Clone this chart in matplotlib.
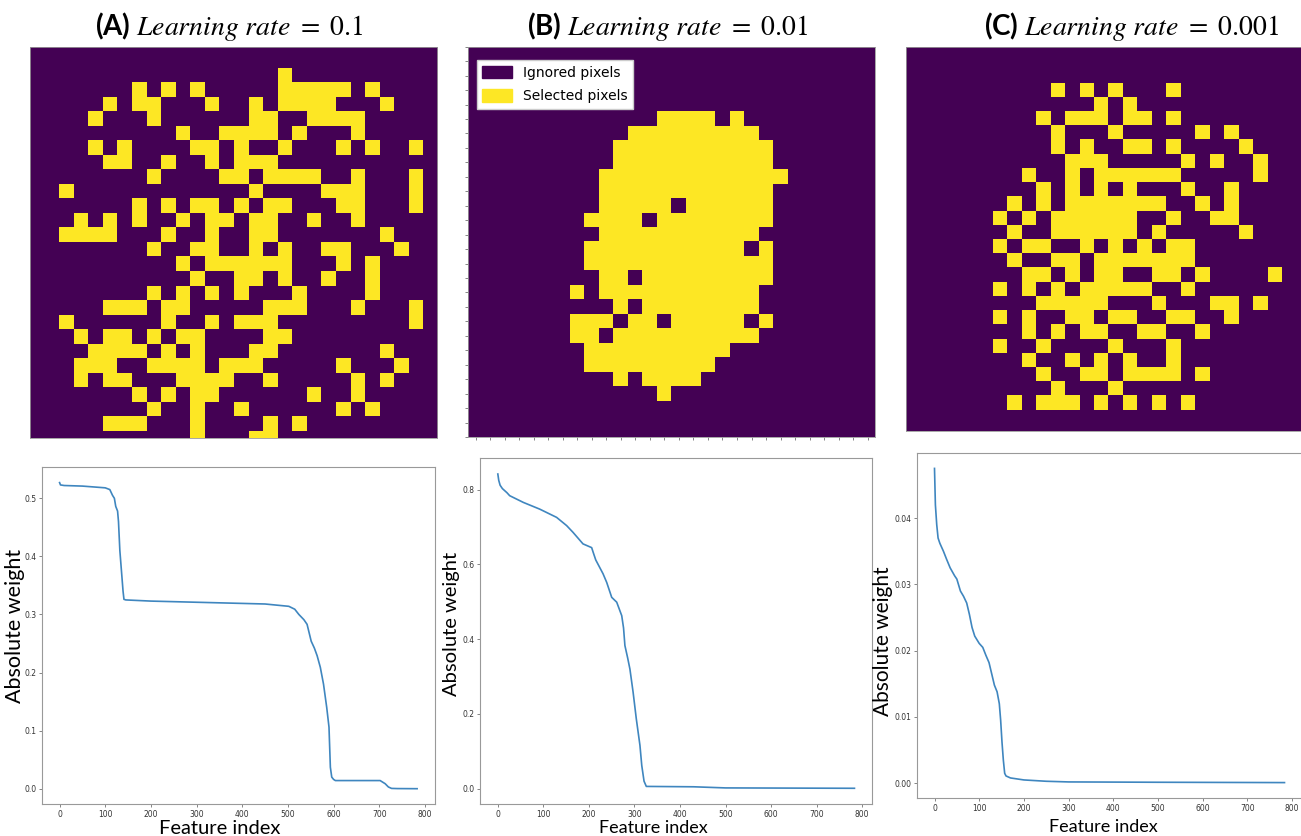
import numpy as np
import matplotlib
matplotlib.use('Agg')
import matplotlib.pyplot as plt
from matplotlib.patches import Patch

plt.rcParams['mathtext.fontset'] = 'stix'
plt.rcParams['font.family'] = 'DejaVu Sans'

# selected pixels per row (column indices), 28x28 masks
rows_a = [
    [], [], [17],
    [7, 9, 11, 17, 18, 19, 20, 21, 23],
    [5, 7, 8, 12, 15, 17, 18, 19, 20, 24],
    [4, 8, 15, 16, 19, 20, 21, 22],
    [10, 13, 14, 15, 16, 18, 22],
    [4, 6, 11, 12, 14, 17, 21, 23, 26],
    [5, 6, 9, 12, 14, 15, 16],
    [8, 13, 14, 16, 17, 18, 19, 22, 26],
    [2, 15, 20, 21, 22, 26],
    [7, 9, 11, 12, 14, 16, 17, 21, 22, 26],
    [3, 5, 7, 10, 12, 13, 15, 16, 19, 22],
    [2, 3, 4, 5, 9, 12, 15, 16, 24],
    [8, 11, 12, 15, 17, 20, 21, 25],
    [10, 12, 13, 14, 15, 16, 17, 21, 23],
    [11, 14, 15, 17, 20, 23],
    [8, 10, 12, 14, 18, 23],
    [5, 6, 7, 9, 10, 16, 17, 18, 22, 26],
    [2, 9, 12, 14, 15, 16, 26],
    [3, 5, 6, 8, 10, 11, 16, 17],
    [4, 5, 6, 7, 9, 11, 15, 16, 24],
    [3, 4, 5, 8, 9, 10, 11, 13, 14, 15, 21, 25],
    [3, 5, 6, 10, 11, 12, 13, 16, 22, 24],
    [7, 9, 11, 12, 19, 22],
    [8, 11, 14, 21, 23],
    [5, 6, 7, 11, 16, 18],
    [11, 15, 16],
]

rows_b = [
    [], [], [], [], [],
    [13, 14, 15, 16, 18],
    [11, 12, 13, 14, 15, 16, 17, 18, 19],
    [10, 11, 12, 13, 14, 15, 16, 17, 18, 19, 20],
    [10, 11, 12, 13, 14, 15, 16, 17, 18, 19, 20],
    [9, 10, 11, 12, 13, 14, 15, 16, 17, 18, 19, 20, 21],
    [9, 10, 11, 12, 13, 14, 15, 16, 17, 18, 19, 20],
    [9, 10, 11, 12, 13, 15, 16, 17, 18, 19, 20],
    [8, 9, 10, 11, 13, 14, 15, 16, 17, 18, 19, 20],
    [9, 10, 11, 12, 13, 14, 15, 16, 17, 18, 19],
    [8, 9, 10, 11, 12, 13, 14, 15, 16, 17, 18, 20],
    [8, 9, 10, 11, 12, 13, 14, 15, 16, 17, 18, 19, 20],
    [9, 10, 12, 13, 14, 15, 16, 17, 18, 19, 20],
    [7, 9, 10, 11, 12, 13, 14, 15, 16, 17, 18, 19],
    [10, 12, 13, 14, 15, 16, 17, 18, 19],
    [7, 8, 9, 11, 12, 14, 15, 16, 17, 18, 20],
    [7, 8, 10, 11, 12, 13, 14, 15, 16, 17, 18, 19],
    [8, 9, 10, 11, 12, 13, 14, 15, 16, 17],
    [8, 9, 10, 11, 12, 13, 14, 15, 16],
    [10, 12, 13, 14, 15],
    [13],
    [], [], [],
]

rows_c = [
    [], [], [],
    [10, 12, 14, 18],
    [13, 15],
    [9, 11, 12, 13, 15, 16, 18],
    [10, 14, 20, 22],
    [10, 12, 15, 16, 18, 23],
    [11, 12, 13, 19, 21, 24],
    [8, 11, 13, 14, 15, 16, 17, 18, 24],
    [9, 11, 13, 15, 19, 22],
    [7, 9, 11, 12, 13, 14, 15, 16, 17, 20, 22],
    [6, 8, 10, 11, 12, 13, 14, 15, 18, 21, 22],
    [7, 10, 11, 12, 13, 14, 15, 17, 23],
    [6, 8, 9, 12, 14, 16, 18, 19],
    [7, 10, 11, 13, 14, 15, 16, 17, 18, 19],
    [8, 9, 11, 13, 14, 17, 18, 20, 25],
    [6, 8, 10, 12, 13, 14, 15, 16, 19],
    [9, 10, 11, 12, 13, 17, 21, 22, 24],
    [6, 8, 11, 12, 14, 15, 18, 19, 22],
    [8, 10, 12, 13, 16, 17, 20],
    [6, 9, 14, 18],
    [8, 11, 13, 15, 18],
    [9, 12, 13, 15, 16, 17, 18, 20],
    [10, 14],
    [7, 9, 10, 11, 13, 15, 17, 19],
    [], [],
]

# sorted absolute weights
idx_a = [0, 2, 10, 50, 100, 110, 116, 120, 123, 127, 129, 132, 135, 137, 139, 141, 145, 200, 300, 400,
         450, 502, 515, 524, 535, 542, 551, 558, 564, 571, 578, 585, 590, 593, 596, 600, 604, 650, 702,
         713, 720, 727, 740, 783]
w_a = [0.527, 0.523, 0.522, 0.521, 0.518, 0.515, 0.505, 0.500, 0.486, 0.478, 0.46, 0.41, 0.38, 0.36,
       0.34, 0.326, 0.325, 0.323, 0.321, 0.319, 0.318, 0.314, 0.309, 0.300, 0.291, 0.283, 0.254, 0.242,
       0.229, 0.209, 0.18, 0.14, 0.106, 0.037, 0.02, 0.016, 0.014, 0.014, 0.014, 0.0086, 0.003, 0.0005,
       0.0002, 0.0]

idx_b = [0, 2, 5, 10, 20, 26, 56, 92, 129, 151, 165, 187, 206, 210, 215, 231, 239, 250, 261, 272, 276,
         279, 285, 290, 297, 304, 312, 316, 321, 326, 430, 500, 783]
w_b = [0.842, 0.825, 0.812, 0.803, 0.792, 0.784, 0.766, 0.748, 0.726, 0.704, 0.686, 0.655, 0.645, 0.63,
       0.612, 0.575, 0.552, 0.512, 0.499, 0.463, 0.43, 0.383, 0.35, 0.32, 0.258, 0.187, 0.116, 0.062,
       0.02, 0.006, 0.005, 0.002, 0.001]

idx_c = [0, 2, 5, 8, 12, 20, 27, 35, 45, 50, 58, 65, 72, 78, 84, 90, 100, 108, 115, 122, 128, 134, 140,
         145, 148, 151, 154, 157, 160, 170, 200, 250, 300, 500, 783]
w_c = [0.0475, 0.042, 0.039, 0.037, 0.0362, 0.035, 0.0338, 0.0325, 0.0313, 0.0308, 0.029, 0.0282,
       0.0272, 0.0255, 0.0235, 0.0222, 0.0211, 0.0205, 0.0193, 0.0182, 0.0165, 0.0148, 0.0138, 0.012,
       0.0095, 0.0062, 0.0035, 0.0015, 0.0011, 0.0008, 0.0005, 0.0003, 0.0002, 0.00015, 0.0001]

titles = ['(A) $Learning\\ rate\\ =\\ 0.1$', '(B) $Learning\\ rate\\ =\\ 0.01$',
          '(C) $Learning\\ rate\\ =\\ 0.001$']

W, H = 1301, 836


def rect(l, t, r, b):
    return [l / W, 1 - b / H, (r - l) / W, (b - t) / H]


def to_mask(rows):
    m = np.zeros((28, 28))
    for r, cols in enumerate(rows):
        m[r, cols] = 1
    return m


fig = plt.figure(figsize=(13.01, 8.36), dpi=100)

img_rects = [rect(30, 46.7, 437.3, 438), rect(468.3, 46.7, 875, 437), rect(905.7, 46.7, 1310, 430.7)]
title_pos = [(229, 35), (668, 35), (1132, 35)]
for k, rows in enumerate([rows_a, rows_b, rows_c]):
    ax = fig.add_axes(img_rects[k])
    ax.imshow(to_mask(rows), cmap='viridis', vmin=0, vmax=1, aspect='auto', interpolation='nearest')
    ax.set_xlim(-0.5, 27.5)
    ax.set_ylim(27, 0)
    if k == 1:
        ax.set_xticks(range(28))
        ax.set_yticks(range(28))
        ax.set_xticklabels([])
        ax.set_yticklabels([])
        ax.tick_params(length=2.5, width=0.5, color='#555')
        handles = [Patch(color='#440154', label='Ignored pixels'),
                   Patch(color='#fde725', label='Selected pixels')]
        ax.legend(handles=handles, loc='upper left', bbox_to_anchor=(0.021, 0.966), borderaxespad=0,
                  prop={'family': 'DejaVu Sans', 'size': 10}, handlelength=2.1, handleheight=1.0,
                  labelspacing=0.7, fancybox=False, framealpha=1, edgecolor='#cccccc')
    else:
        ax.set_xticks([])
        ax.set_yticks([])
    for s in ax.spines.values():
        s.set_color('#999999')
        s.set_linewidth(0.6)
    fig.text(title_pos[k][0] / W, 1 - title_pos[k][1] / H, titles[k], ha='center', va='baseline',
             fontsize=20, fontweight='bold', family='Lato')

plot_rects = [rect(41.7, 467.3, 435, 804), rect(480, 458.3, 872.3, 804), rect(917, 452.7, 1302, 798.3)]
ylab = [(-0.068, 0.53, 15.5), (-0.072, 0.522, 14.5), (-0.088, 0.455, 15)]
xlab = [(0.453, -0.072, 14.5), (0.441, -0.07, 13), (0.483, -0.082, 13)]
series = [(idx_a, w_a), (idx_b, w_b), (idx_c, w_c)]
for k, (xs, ys) in enumerate(series):
    ax = fig.add_axes(plot_rects[k])
    ax.plot(xs, ys, color='#3f86bf', lw=1.2)
    ax.set_xticks(range(0, 801, 100))
    ax.tick_params(labelsize=5.5, length=2.5, width=0.5, color='#555', labelcolor='#333', pad=1.5)
    for s in ax.spines.values():
        s.set_color('#999999')
        s.set_linewidth(0.8)
    ax.set_ylabel('Absolute weight', family='Lato', fontsize=ylab[k][2], va='center', ha='center')
    ax.yaxis.set_label_coords(ylab[k][0], ylab[k][1])
    ax.set_xlabel('Feature index', family='Lato', fontsize=xlab[k][2], va='center', ha='center')
    ax.xaxis.set_label_coords(xlab[k][0], xlab[k][1])

fig.savefig('out.png', dpi=100)
